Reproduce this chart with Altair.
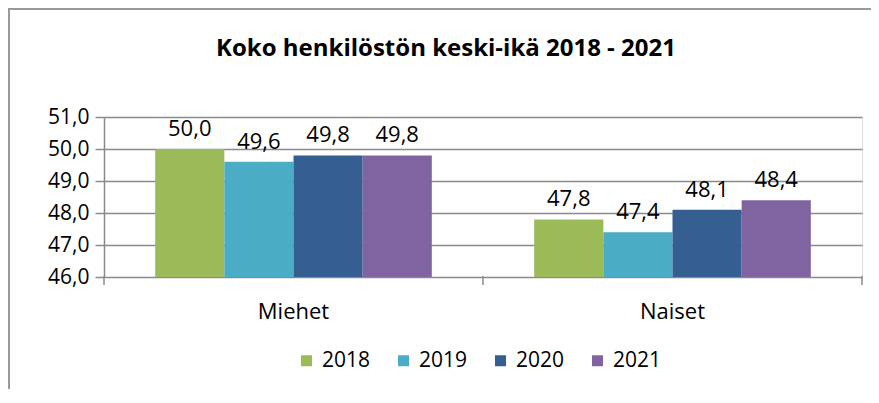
import altair as alt
import pandas as pd

categories = ["Miehet", "Naiset"]
years = ["2018", "2019", "2020", "2021"]
values_2018 = [50.0, 47.8]
values_2019 = [49.6, 47.4]
values_2020 = [49.8, 48.1]
values_2021 = [49.8, 48.4]
colors = ["#9BBB59", "#4BACC6", "#355E91", "#8064A2"]
y_ticks = [46, 47, 48, 49, 50, 51]

series = [values_2018, values_2019, values_2020, values_2021]
rows = []
for yi, yr in enumerate(years):
    for ci, cat in enumerate(categories):
        rows.append({"cat": cat, "year": yr, "value": series[yi][ci]})
df = pd.DataFrame(rows)
cat_df = pd.DataFrame({"cat": categories})
tick_df = pd.DataFrame({"v": y_ticks})

FONT = "Open Sans"
FS = 21
W, H = 758, 160
GRAY = "#8a8a8a"

y_scale = alt.Scale(domain=[46, 51], zero=False, nice=False)
x_enc = alt.X("cat:N", sort=categories,
              scale=alt.Scale(paddingInner=0, paddingOuter=0),
              axis=alt.Axis(title=None, labelAngle=0, ticks=False, domain=False,
                            labelFontSize=22, labelFont=FONT, labelColor="#000",
                            labelPadding=24))
xoff = alt.XOffset("year:N", sort=years, scale=alt.Scale(paddingOuter=0.74, paddingInner=0))
y_enc = alt.Y("value:Q", scale=y_scale,
              axis=alt.Axis(title=None, tickCount=5,
                            labelExpr="replace(format(datum.value, '.1f'), '.', ',')",
                            labelFontSize=FS, labelFont=FONT, labelColor="#000",
                            labelOverlap=False,
                            grid=True, gridColor=GRAY, gridWidth=1.5,
                            domainColor=GRAY, domainWidth=1.5,
                            tickColor=GRAY, tickWidth=1.5, tickSize=9, labelPadding=6))

bars = alt.Chart(df).mark_bar().encode(
    x=x_enc,
    xOffset=xoff,
    y=y_enc,
    y2=alt.datum(46),
    color=alt.Color("year:N", sort=years, scale=alt.Scale(domain=years, range=colors),
                    legend=alt.Legend(title=None, orient="none", direction="horizontal",
                                      legendX=192, legendY=233,
                                      symbolType="square", symbolSize=121, symbolStrokeWidth=0,
                                      labelFontSize=FS, labelFont=FONT, labelColor="#000",
                                      columnPadding=22, labelOffset=5)),
)

text = alt.Chart(df).transform_calculate(
    label="replace(format(datum.value, '.1f'), '.', ',')"
).mark_text(fontSize=22, font=FONT, color="#000", baseline="bottom", dy=-8).encode(
    x=x_enc,
    xOffset=xoff,
    y=y_enc,
    text="label:N",
)

ticks0 = alt.Chart(cat_df).mark_rule(color=GRAY, strokeWidth=1.5).encode(
    x=alt.X("cat:N", sort=categories, bandPosition=0),
    y=alt.value(H - 1),
    y2=alt.value(H + 8),
)
ticks1 = alt.Chart(cat_df).transform_filter(
    alt.datum.cat == categories[-1]
).mark_rule(color=GRAY, strokeWidth=1.5).encode(
    x=alt.X("cat:N", sort=categories, bandPosition=1),
    y=alt.value(H - 1),
    y2=alt.value(H + 8),
)

frame_top = alt.Chart(cat_df).transform_filter(alt.datum.cat == categories[0]).mark_rule(
    color="#9a9a9a", strokeWidth=2).encode(
    x=alt.value(-96), x2=alt.value(W + 9), y=alt.value(-108))
frame_left = alt.Chart(cat_df).transform_filter(alt.datum.cat == categories[0]).mark_rule(
    color="#9a9a9a", strokeWidth=2).encode(
    x=alt.value(-95), y=alt.value(-108), y2=alt.value(H + 120))

chart = alt.layer(bars, text, ticks0, ticks1, frame_top, frame_left).properties(
    width=W, height=H,
    padding={"left": 96, "top": 109, "right": 9, "bottom": 112},
    autosize=alt.AutoSizeParams(type="none"),
    title=alt.TitleParams("Koko henkilöstön keski-ikä 2018 - 2021", font=FONT, fontSize=24,
                          fontWeight="bold", color="#000", anchor="middle", dx=-37,
                          offset=0, dy=53),
).configure_view(stroke=None).configure(background="white")

chart.save("out.html", embed_options={"renderer": "svg", "actions": False})
